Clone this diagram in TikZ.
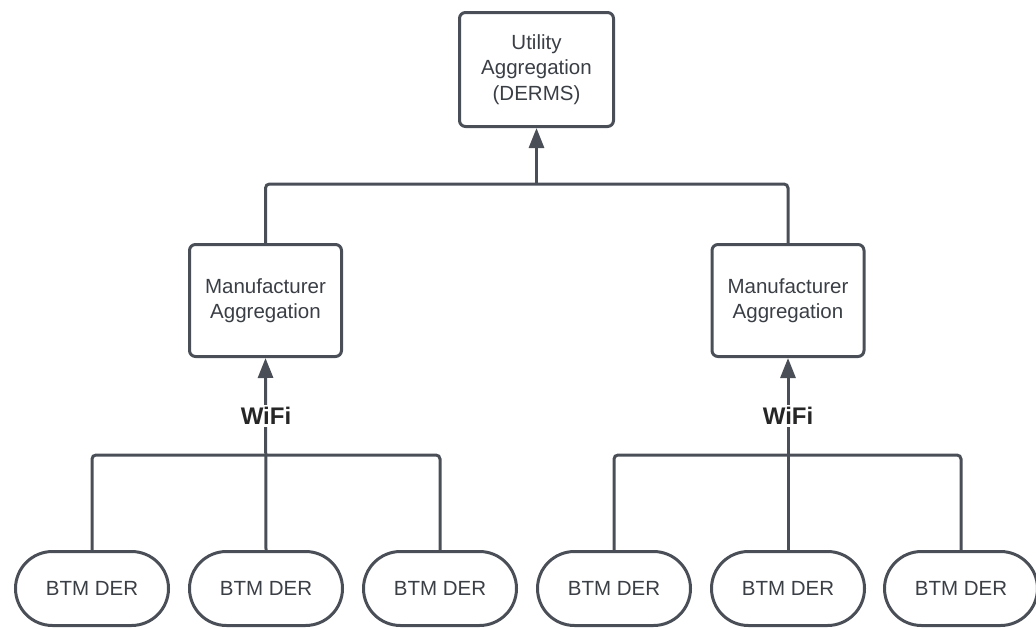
\documentclass[tikz,border=0pt]{standalone}
\usepackage{fontspec}
\setmainfont{Liberation Sans}
\usetikzlibrary{arrows.meta}
\definecolor{linecol}{HTML}{4A4F57}
\definecolor{textcol}{HTML}{3A3E45}
\tikzset{
    aggbox/.style={draw=linecol,line width=3pt,rounded corners=6pt,align=center,text=textcol,
        font=\fontsize{20.5}{25.5}\selectfont},
    derbox/.style={draw=linecol,line width=3pt,rounded corners=37pt,minimum width=153pt,
        minimum height=74pt,text=textcol,font=\fontsize{20.5}{25}\selectfont},
    link/.style={draw=linecol,line width=3pt,rounded corners=4pt},
    uplink/.style={link,-{Triangle[length=20pt,width=15pt]}}
}
\begin{document}
\begin{tikzpicture}[x=1pt,y=-1pt]
\useasboundingbox (0,0) rectangle (1036,629);
\node[aggbox,minimum width=154pt,minimum height=114pt] (util) at (536.5,69.5)
    {Utility\\Aggregation\\(DERMS)};
\node[aggbox,minimum width=152pt,minimum height=112pt] (manL) at (265.5,300.5)
    {Manufacturer\\Aggregation};
\node[aggbox,minimum width=152pt,minimum height=112pt] (manR) at (788,300.5)
    {Manufacturer\\Aggregation};
\foreach \x/\n in {92/derA,266/derB,440/derC,614/derD,788/derE,961/derF}
{
    \node[derbox] (\n) at (\x,588.5) {BTM DER};
}
\coordinate (top) at (536.5,184);
\coordinate (jL) at (266,455);
\coordinate (jR) at (788,455);
\draw[link] (manL.north) |- (top) -| (manR.north);
\draw[uplink] (top) -- (util.south);
\draw[link] (derA.north) |- (jL) -| (derC.north);
\draw[link] (derD.north) |- (jR) -| (derF.north);
\draw[uplink] (derB.north) -- (manL.south);
\draw[uplink] (derE.north) -- (manR.south);
\node[fill=white,inner sep=2pt,text=black!85,font=\fontsize{24}{28}\selectfont\bfseries] (wifiL) at (266,416) {WiFi};
\node[fill=white,inner sep=2pt,text=black!85,font=\fontsize{24}{28}\selectfont\bfseries] (wifiR) at (788,416) {WiFi};
\end{tikzpicture}
\end{document}
